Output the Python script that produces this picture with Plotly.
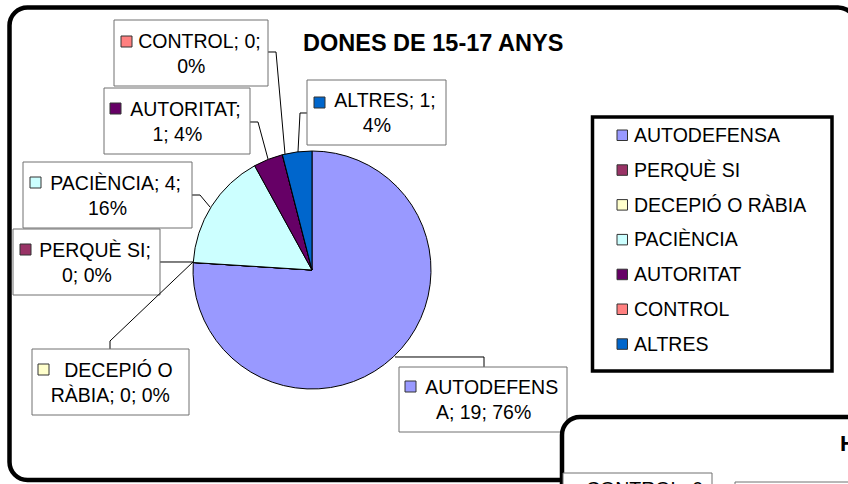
import plotly.graph_objects as go

# ---------------- data ----------------
categories = ["AUTODEFENSA", "PERQUÈ SI", "DECEPIÓ O RÀBIA", "PACIÈNCIA",
              "AUTORITAT", "CONTROL", "ALTRES"]
values = [19, 0, 0, 4, 1, 0, 1]
colors = ["#9999FF", "#993366", "#FFFFCC", "#CCFFFF", "#660066", "#FF8080", "#0066CC"]
title_text = "DONES DE 15-17 ANYS"
# character index where Excel wrapped each data label
label_breaks = [10, 10, 9, 13, 10, 11, 10]

# ---------------- layout helpers (pixel -> paper) ----------------
W, H = 848, 484
FONT = "Liberation Sans, Arial, sans-serif"


def px(x):
    return x / W


def py(y):
    return 1 - y / H


def rrect_path(x0, y0, x1, y1, r):
    k = 0.5523 * r
    def P(x, y):
        return f"{px(x):.6f},{py(y):.6f}"
    d = f"M {P(x0 + r, y0)} L {P(x1 - r, y0)} "
    d += f"C {P(x1 - r + k, y0)} {P(x1, y0 + r - k)} {P(x1, y0 + r)} "
    d += f"L {P(x1, y1 - r)} "
    d += f"C {P(x1, y1 - r + k)} {P(x1 - r + k, y1)} {P(x1 - r, y1)} "
    d += f"L {P(x0 + r, y1)} "
    d += f"C {P(x0 + r - k, y1)} {P(x0, y1 - r + k)} {P(x0, y1 - r)} "
    d += f"L {P(x0, y0 + r)} "
    d += f"C {P(x0, y0 + r - k)} {P(x0 + r - k, y0)} {P(x0 + r, y0)} Z"
    return d


def poly_path(points):
    return "M " + " L ".join(f"{px(x):.6f},{py(y):.6f}" for x, y in points)


total = sum(values)
pcts = [round(100 * v / total) for v in values]

# label layout: box (x0,y0,x1,y1), marker top-left, leader line points
label_layout = [
    dict(box=(399, 367, 567, 432), mk=(405, 381), lead=[(395, 357), (484, 357), (484, 367)]),
    dict(box=(13, 229, 160, 295), mk=(20, 244), lead=[(160, 262), (193, 262)]),
    dict(box=(32, 349, 189, 415), mk=(38, 364), lead=[(110, 349), (110, 341), (193, 262)]),
    dict(box=(23, 162, 192, 228), mk=(30, 177), lead=[(192, 195), (200, 195), (210, 207)]),
    dict(box=(104, 88, 250, 154), mk=(110, 103), lead=[(250, 122), (258, 122), (268, 159)]),
    dict(box=(114, 20, 268, 86), mk=(121, 36), lead=[(268, 52), (276, 52), (285, 154)]),
    dict(box=(307, 80, 446, 145), mk=(314, 97), lead=[(307, 113), (300, 113), (298, 152)]),
]

fig = go.Figure()
fig.add_trace(go.Pie(
    labels=categories, values=values, sort=False, direction="clockwise", rotation=0,
    marker=dict(colors=colors, line=dict(color="black", width=1)),
    textinfo="none", hoverinfo="label+value+percent",
    domain=dict(x=[px(193), px(431)], y=[py(389), py(151)]),
    showlegend=False,
))

shapes = []
annotations = []

# outer frame of chart
shapes.append(dict(type="path", path=rrect_path(9.5, 7.5, 856, 480, 18),
                   xref="paper", yref="paper", line=dict(color="black", width=4.5),
                   layer="below"))

# title
annotations.append(dict(x=px(432.5), y=py(43), xref="paper", yref="paper",
                        text=f"<b>{title_text}</b>", showarrow=False,
                        xanchor="center", yanchor="middle",
                        font=dict(family=FONT, size=23.5, color="black")))

# data labels
MS = 11
for cat, v, p, col, brk, lay in zip(categories, values, pcts, colors, label_breaks, label_layout):
    full = f"{cat}; {v}; {p}%"
    l1 = full[:brk].rstrip()
    l2 = full[brk:].lstrip()
    x0, y0, x1, y1 = lay["box"]
    shapes.append(dict(type="path", path=poly_path(lay["lead"]), xref="paper", yref="paper",
                       line=dict(color="black", width=1), layer="above"))
    shapes.append(dict(type="rect", x0=px(x0), x1=px(x1), y0=py(y1), y1=py(y0),
                       xref="paper", yref="paper", fillcolor="white",
                       line=dict(color="#707070", width=1), layer="above"))
    mx, my = lay["mk"]
    shapes.append(dict(type="rect", x0=px(mx), x1=px(mx + MS), y0=py(my + MS), y1=py(my),
                       xref="paper", yref="paper", fillcolor=col,
                       line=dict(color="#333333", width=1), layer="above"))
    annotations.append(dict(x=px((x0 + x1) / 2), y=py((y0 + y1) / 2), xref="paper", yref="paper",
                            text="\u00a0\u00a0\u00a0" + l1 + "<br>" + l2, showarrow=False,
                            align="center", xanchor="center", yanchor="middle",
                            font=dict(family=FONT, size=19.5, color="black")))

# legend
shapes.append(dict(type="rect", x0=px(592.5), x1=px(832), y0=py(371), y1=py(117),
                   xref="paper", yref="paper", fillcolor="white",
                   line=dict(color="black", width=3.5), layer="above"))
for i, (cat, col) in enumerate(zip(categories, colors)):
    cy = 135 + 34.8 * i
    shapes.append(dict(type="rect", x0=px(617), x1=px(627.5), y0=py(cy + 5.5), y1=py(cy - 5),
                       xref="paper", yref="paper", fillcolor=col,
                       line=dict(color="#333333", width=1), layer="above"))
    annotations.append(dict(x=px(632), y=py(cy), xref="paper", yref="paper",
                            text=cat, showarrow=False, xanchor="left", yanchor="middle",
                            font=dict(family=FONT, size=19.5, color="black")))

# neighbouring chart peeking in at bottom-right
shapes.append(dict(type="path", path=rrect_path(562, 417, 900, 600, 18),
                   xref="paper", yref="paper", fillcolor="white",
                   line=dict(color="black", width=4.5), layer="above"))
shapes.append(dict(type="rect", x0=px(563), x1=px(712), y0=py(560), y1=py(473),
                   xref="paper", yref="paper", fillcolor="white",
                   line=dict(color="#707070", width=1), layer="above"))
shapes.append(dict(type="rect", x0=px(735), x1=px(900), y0=py(560), y1=py(482),
                   xref="paper", yref="paper", fillcolor="white",
                   line=dict(color="#707070", width=1), layer="above"))
annotations.append(dict(x=px(838), y=py(443), xref="paper", yref="paper",
                        text="<b>H</b>", showarrow=False, xanchor="left", yanchor="middle",
                        font=dict(family=FONT, size=22.5, color="black")))
annotations.append(dict(x=px(584), y=py(476), xref="paper", yref="paper",
                        text="CONTROL; 0", showarrow=False, xanchor="left", yanchor="top",
                        font=dict(family=FONT, size=19.5, color="black")))

fig.update_layout(
    width=W, height=H, margin=dict(l=0, r=0, t=0, b=0),
    paper_bgcolor="white", plot_bgcolor="white",
    showlegend=False, shapes=shapes, annotations=annotations,
)

fig.write_html("out.html", config={"displayModeBar": False},
               post_script="document.body.style.margin='0';document.body.style.overflow='hidden';")
